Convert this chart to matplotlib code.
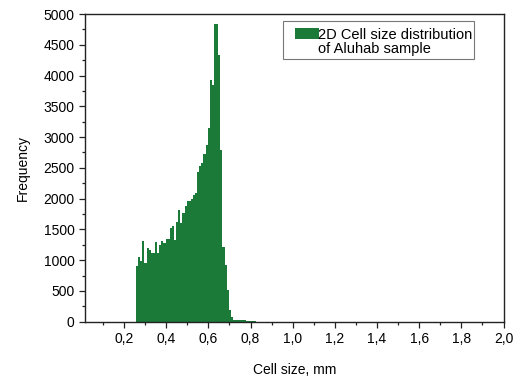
import matplotlib
matplotlib.use("Agg")
import matplotlib.pyplot as plt
from matplotlib.patches import Rectangle
from matplotlib.ticker import MultipleLocator

plt.rcParams['font.family'] = ['Liberation Sans', 'DejaVu Sans']

bin_start = 0.257
bin_width = 0.01
counts = [900, 1045, 985, 1305, 960, 1200, 1165, 1110, 1110, 1290,
          1110, 1245, 1310, 1285, 1340, 1340, 1520, 1560, 1330, 1625,
          1815, 1600, 1760, 1885, 1965, 1955, 2000, 2060, 2090, 2440,
          2530, 2585, 2730, 2875, 3140, 3930, 3850, 4840, 4840, 4330,
          2790, 1220, 920, 515, 190, 80, 30, 28, 26, 24,
          22, 20, 18, 15, 12, 10, 8]
edges = [bin_start + bin_width * i for i in range(len(counts))]

xticks = [0.2, 0.4, 0.6, 0.8, 1.0, 1.2, 1.4, 1.6, 1.8, 2.0]
xticklabels = ["0,2", "0,4", "0,6", "0,8", "1,0", "1,2", "1,4", "1,6", "1,8", "2,0"]
yticks = [0, 500, 1000, 1500, 2000, 2500, 3000, 3500, 4000, 4500, 5000]
legend_lines = ["2D Cell size distribution", "of Aluhab sample"]

color = "#1b7a37"
W, H = 521, 378

fig = plt.figure(figsize=(W / 100, H / 100), dpi=100)
ax = fig.add_axes([85 / W, 1 - 321.7 / H, (503.5 - 85) / W, (321.7 - 14) / H])
ax.bar(edges, counts, width=bin_width, align='edge', color=color,
       edgecolor='none', linewidth=0)

ax.set_xlim(0.015, 2.0)
ax.set_ylim(0, 5000)
ax.set_xticks(xticks)
ax.set_xticklabels(xticklabels)
ax.set_yticks(yticks)
ax.xaxis.set_minor_locator(MultipleLocator(0.1))
ax.yaxis.set_minor_locator(MultipleLocator(250))
ax.tick_params(axis='both', which='major', direction='out', length=4.5,
               width=0.9, labelsize=10, color='#222222', pad=3)
ax.tick_params(axis='both', which='minor', direction='out', length=2.5,
               width=0.9, color='#222222')
ax.tick_params(top=False, right=False, which='both')
for s in ax.spines.values():
    s.set_linewidth(1.0)
    s.set_color('#222222')

ax.set_xlabel("Cell size, mm", fontsize=10, labelpad=12)
ax.set_ylabel("Frequency", fontsize=10, labelpad=10)

# legend drawn in figure pixel coordinates
def fx(x):
    return x / W

def fy(y):
    return 1 - y / H

fig.patches.append(Rectangle((fx(282.5), fy(58.5)), (474 - 282.5) / W, (58.5 - 21.5) / H,
                             transform=fig.transFigure, fill=True, facecolor='white',
                             edgecolor='#777777', linewidth=0.8, zorder=5))
fig.patches.append(Rectangle((fx(294.7), fy(38.7)), (318.5 - 294.7) / W, (38.7 - 28.2) / H,
                             transform=fig.transFigure, facecolor=color,
                             edgecolor='none', zorder=6))
fig.text(fx(318.5), fy(38.7), legend_lines[0], fontsize=10.5, va='baseline',
         ha='left', zorder=7)
fig.text(fx(318.5), fy(53.3), legend_lines[1], fontsize=10.5, va='baseline',
         ha='left', zorder=7)

fig.savefig("out.png", dpi=100)
